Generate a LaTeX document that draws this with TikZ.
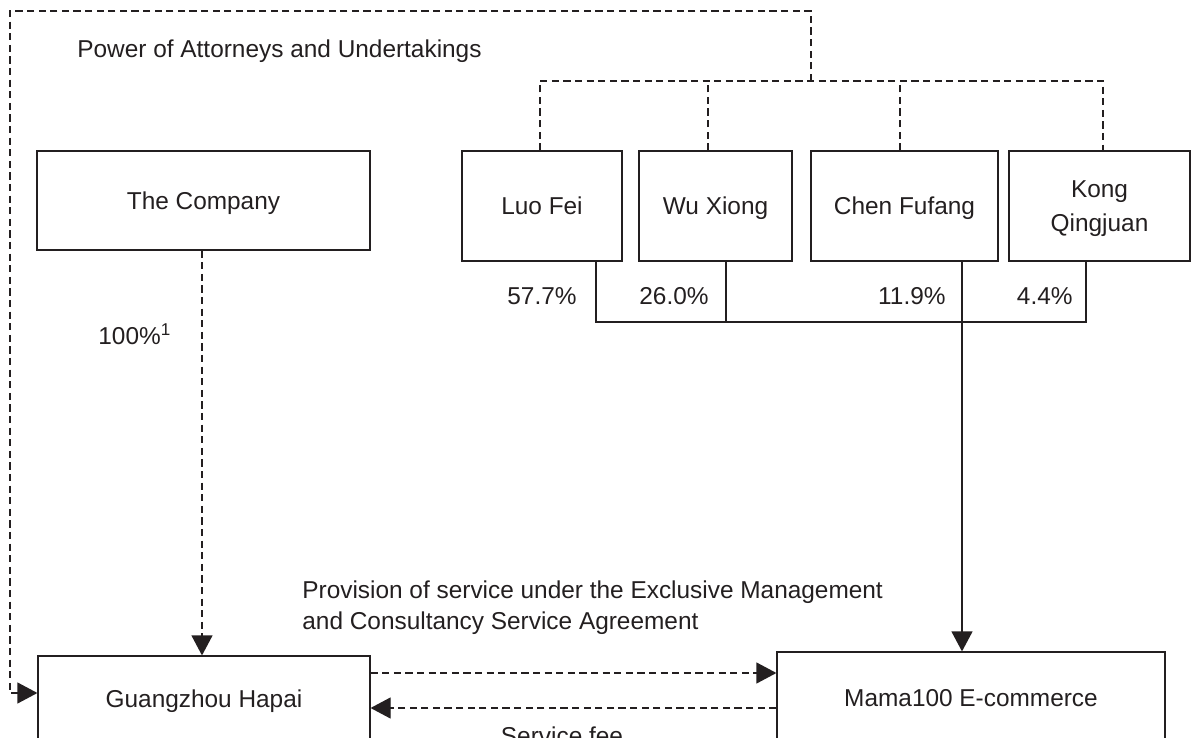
\documentclass[tikz,border=0pt]{standalone}
\usepackage{fontspec}
\setmainfont{Liberation Sans}
\usepackage{xcolor}
\usepackage{tikz}
\usetikzlibrary{arrows.meta}
\definecolor{inkgray}{RGB}{35,31,32}
\tikzstyle{block} = [draw=inkgray, rectangle, line width=0.6pt, inner sep=0pt,
text centered, text height=8.7pt, text depth=0pt]
\tikzstyle{txt} = [inner sep=0pt]
\tikzstyle{solidline} = [draw=inkgray, line width=0.6pt]
\tikzstyle{dashline} = [draw=inkgray, line width=0.6pt, dash pattern=on 3.6pt off 2.2pt]
\tikzstyle{head} = [-{Triangle[length=10pt,width=10.5pt]}]

\begin{document}
\begin{tikzpicture}[x=0.5pt, y=-0.5pt, text=inkgray,
  font=\fontsize{12.2pt}{15.5pt}\selectfont]

\useasboundingbox (0,0) rectangle (1191,738);
\clip (0,0) rectangle (1191,738);

% Place nodes
\node [block, minimum width=166.5pt, minimum height=49.5pt](company) at (203.5,200.5){The Company};
\node [block, minimum width=80pt, minimum height=55pt](luo) at (542,206){Luo Fei};
\node [block, minimum width=76.5pt, minimum height=55pt](wu) at (715.5,206){Wu Xiong};
\node [block, minimum width=93.5pt, minimum height=55pt](chen) at (904.5,206){Chen Fufang};
\node [block, minimum width=90.5pt, minimum height=55pt, text height=, text depth=,
  font=\fontsize{12.2pt}{17pt}\selectfont](kong) at (1099.5,206)
  {\raisebox{-1.1pt}[\height][\depth]{\begin{tabular}{@{}c@{}}Kong\\Qingjuan\end{tabular}}};
\node [block, minimum width=166pt, minimum height=43pt](hapai) at (204,699){Guangzhou Hapai};
\node [block, minimum width=194pt, minimum height=46pt](mama) at (971,698){Mama100 E-commerce};

% Place labels
\node [txt, anchor=base west](poa) at (77,58){Power of Attorneys and Undertakings};
\node [txt, anchor=base west](full) at (98,344){100\%\textsuperscript{1}};
\node [txt, anchor=base east](luopct) at (577,305){57.7\%};
\node [txt, anchor=base east](wupct) at (709,305){26.0\%};
\node [txt, anchor=base east](chenpct) at (946,305){11.9\%};
\node [txt, anchor=base east](kongpct) at (1073,305){4.4\%};
\node [txt, anchor=north west, align=left](service) at (302,580){Provision of service under the Exclusive Management\\and Consultancy Service Agreement};
\node [txt, anchor=north](fee) at (562,726){Service fee};

\coordinate (bar) at (811,81);
\coordinate (own) at (962,322);

% Place lines
\draw [dashline] (luo.north -| 540,0) |- (bar) -| (kong.north -| 1103,0);
\draw [dashline] (wu.north -| 708,0) -- (bar -| 708,0);
\draw [dashline] (chen.north -| 900,0) -- (bar -| 900,0);
\draw [dashline, head] (bar) |- (10,11) |- ([yshift=3pt]hapai.west);
\draw [solidline] (luo.south -| 596,0) |- (own) -| (kong.south -| 1086,0);
\draw [solidline] (wu.south -| 726,0) -- (own -| 726,0);
\draw [solidline, head] (chen.south -| own) -- (mama.north -| own);
\draw [dashline, head] (company.south -| 202,0) -- (hapai.north -| 202,0);
\draw [dashline, head] (hapai.east |- 0,673) -- (mama.west |- 0,673);
\draw [dashline, head] (mama.west |- 0,708) -- (hapai.east |- 0,708);

\end{tikzpicture}
\end{document}
